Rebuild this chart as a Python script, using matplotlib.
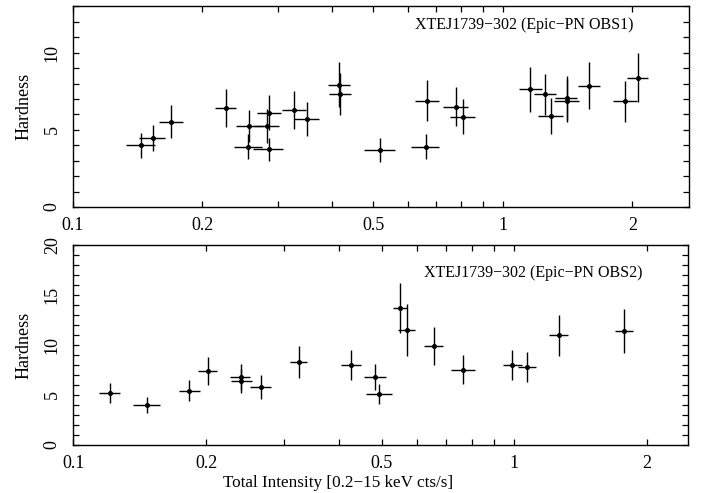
import matplotlib
matplotlib.use("Agg")
import matplotlib.pyplot as plt
from matplotlib.ticker import FixedLocator, FixedFormatter, MultipleLocator, NullLocator

plt.rcParams['font.family'] = ['Liberation Serif', 'DejaVu Serif']

# OBS1 (upper panel): intensity, x-range, hardness, y-error
obs1_x = [0.1438, 0.1535, 0.1693, 0.227, 0.257, 0.256, 0.282, 0.286, 0.2855, 0.326,
          0.351, 0.416, 0.417, 0.5177, 0.662, 0.667, 0.776, 0.806, 1.158, 1.254,
          1.295, 1.409, 1.406, 1.588, 1.925, 2.064]
obs1_xlo = [0.133, 0.1426, 0.1585, 0.2139, 0.2394, 0.2375, 0.2636, 0.268, 0.2626, 0.306,
            0.326, 0.392, 0.394, 0.476, 0.611, 0.625, 0.725, 0.753, 1.09, 1.18,
            1.21, 1.32, 1.315, 1.495, 1.80, 1.94]
obs1_xhi = [0.155, 0.164, 0.180, 0.240, 0.277, 0.275, 0.301, 0.305, 0.308, 0.348,
            0.374, 0.440, 0.443, 0.561, 0.711, 0.709, 0.830, 0.861, 1.23, 1.33,
            1.38, 1.49, 1.50, 1.68, 2.05, 2.18]
obs1_y = [4.0, 4.46, 5.54, 6.41, 5.26, 3.92, 5.26, 6.12, 3.75, 6.30,
          5.71, 7.92, 7.34, 3.70, 3.92, 6.88, 6.51, 5.86, 7.62, 7.29,
          5.89, 7.06, 6.88, 7.86, 6.84, 8.38]
obs1_yerr = [0.8, 0.85, 1.07, 1.22, 1.05, 0.78, 1.1, 1.15, 0.75, 1.22,
             1.1, 1.46, 1.37, 0.77, 0.8, 1.33, 1.27, 1.15, 1.45, 1.35,
             1.15, 1.43, 1.4, 1.53, 1.32, 1.6]

# OBS2 (lower panel)
obs2_x = [0.1209, 0.1468, 0.1832, 0.202, 0.2397, 0.2399, 0.267, 0.3244, 0.4263, 0.484,
          0.494, 0.5506, 0.570, 0.6576, 0.766, 0.9865, 1.067, 1.263, 1.776]
obs2_xlo = [0.1144, 0.1367, 0.1733, 0.192, 0.227, 0.228, 0.252, 0.310, 0.405, 0.457,
            0.460, 0.530, 0.546, 0.624, 0.720, 0.940, 1.02, 1.20, 1.69]
obs2_xhi = [0.1276, 0.1571, 0.1937, 0.212, 0.252, 0.254, 0.280, 0.339, 0.449, 0.512,
            0.527, 0.570, 0.594, 0.688, 0.812, 1.04, 1.12, 1.32, 1.86]
obs2_y = [5.17, 3.97, 5.43, 7.43, 6.8, 6.43, 5.83, 8.27, 7.97, 6.8,
          5.1, 13.7, 11.47, 9.93, 7.5, 8.0, 7.8, 10.97, 11.43]
obs2_yerr = [1.0, 0.8, 1.05, 1.4, 1.3, 1.2, 1.2, 1.6, 1.5, 1.3,
             1.0, 2.5, 2.6, 1.9, 1.45, 1.5, 1.5, 2.05, 2.2]

xtick_vals = [0.1, 0.2, 0.3, 0.4, 0.5, 0.6, 0.7, 0.8, 0.9, 1, 2]
xtick_labels = ['0.1', '0.2', '', '', '0.5', '', '', '', '', '1', '2']

fig = plt.figure(figsize=(7.08, 4.93), dpi=100)
ax1 = fig.add_axes([0.1031, 0.580, 0.8701, 0.4072])
ax2 = fig.add_axes([0.1035, 0.0974, 0.8678, 0.4056])


def draw(ax, x, xlo, xhi, y, yerr, xmax, ymax, label, lx, ly):
    xerr = [[a - b for a, b in zip(x, xlo)], [c - a for a, c in zip(x, xhi)]]
    ax.errorbar(x, y, xerr=xerr, yerr=yerr, fmt='o', color='black', ms=2.6,
                elinewidth=1.0, capsize=0)
    ax.set_xscale('log')
    ax.set_xlim(0.1, xmax)
    ax.set_ylim(0, ymax)
    ax.xaxis.set_major_locator(FixedLocator(xtick_vals))
    ax.xaxis.set_major_formatter(FixedFormatter(xtick_labels))
    ax.xaxis.set_minor_locator(NullLocator())
    ax.yaxis.set_major_locator(MultipleLocator(5))
    ax.yaxis.set_minor_locator(MultipleLocator(1))
    ax.tick_params(which='both', direction='in', top=True, right=True,
                   length=4.5, width=0.9, labelsize=13)
    ax.tick_params(axis='x', pad=7)
    ax.tick_params(axis='y', pad=9)
    for t in ax.get_yticklabels():
        t.set_rotation(90)
        t.set_va('center')
    for s in ax.spines.values():
        s.set_linewidth(1.0)
    ax.set_ylabel('Hardness', fontsize=13, labelpad=8)
    ax.text(lx, ly, label, transform=ax.transAxes, ha='right', va='center',
            fontsize=11.5)


draw(ax1, obs1_x, obs1_xlo, obs1_xhi, obs1_y, obs1_yerr, 2.71, 13,
     'XTEJ1739\u2212302 (Epic\u2212PN OBS1)', 0.91, 0.905)
draw(ax2, obs2_x, obs2_xlo, obs2_xhi, obs2_y, obs2_yerr, 2.47, 20,
     'XTEJ1739\u2212302 (Epic\u2212PN OBS2)', 0.927, 0.86)
ax2.set_xlabel('Total Intensity [0.2\u221215 keV cts/s]', fontsize=12.3, va='center')
ax2.xaxis.set_label_coords(0.431, -0.19)

fig.savefig('out.png', dpi=100)
